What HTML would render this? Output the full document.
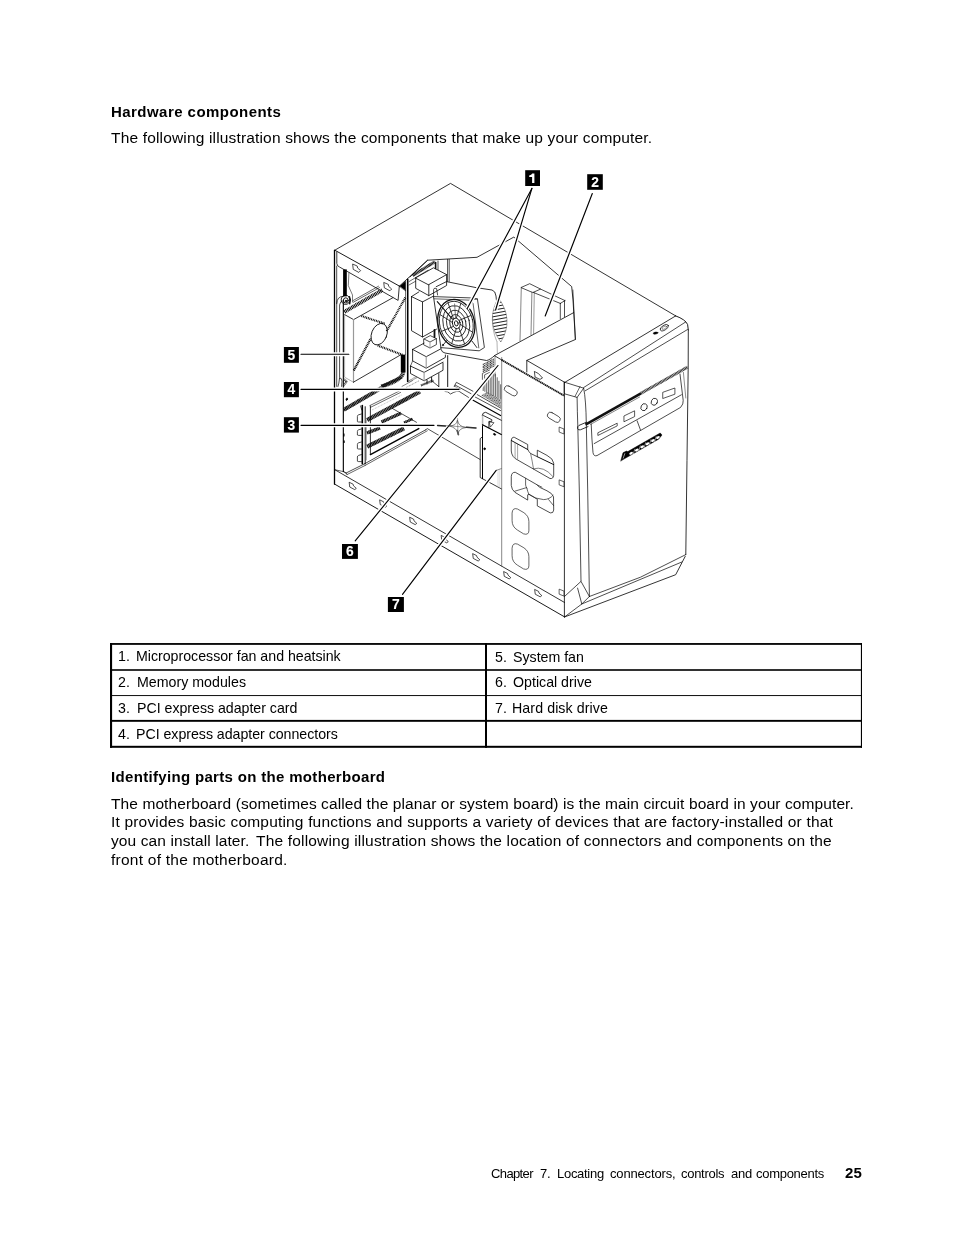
<!DOCTYPE html>
<html><head><meta charset="utf-8"><title>p25</title>
<style>
html,body{margin:0;padding:0;background:#fff;}
body{width:954px;height:1235px;position:relative;overflow:hidden;font-family:"Liberation Sans",sans-serif;color:#000;}
.t{position:absolute;white-space:nowrap;line-height:1;will-change:transform;}
.b{position:absolute;background:#000;}
svg{position:absolute;left:0;top:0;will-change:transform;}
</style></head><body>
<svg width="954" height="1235" viewBox="0 0 954 1235" stroke-linecap="round" stroke-linejoin="round">
<path d="M334.8,250.2 L450.5,183.4 L675.7,315.9" fill="none" stroke="#000" stroke-width="0.8" />
<path d="M675.7,315.9 Q685.5,319.5 687.6,324.5 L688.3,330" fill="none" stroke="#000" stroke-width="0.9" />
<path d="M334.8,250.2 L399.4,286.1" fill="none" stroke="#000" stroke-width="0.9" />
<path d="M336.8,252 L336.8,263.5 Q337,266 339.5,267 L398.1,300.4 L399.3,286.2" fill="none" stroke="#000" stroke-width="0.8" />
<path d="M353.0,264.2 L357.2,266.0 L357.6,268.0 L360.6,270.6 L358.8,272.4 L353.6,269.6 Z" fill="none" stroke="#000" stroke-width="0.7" stroke-linejoin="miter"/>
<path d="M384.1,282.6 L388.3,284.4 L388.7,286.4 L391.7,289.0 L389.9,290.8 L384.7,288.0 Z" fill="none" stroke="#000" stroke-width="0.7" stroke-linejoin="miter"/>
<path d="M399.3,286.2 L427.6,260.2 L477.0,257.3 L513.8,237.1 L571.7,286.6 L573.0,300.0 L575.4,339.5 L526.8,360.4 L564.5,382.2" fill="none" stroke="#000" stroke-width="0.8" />
<line x1="526.8" y1="360.4" x2="526.8" y2="372.0" stroke="#000" stroke-width="0.8" />
<line x1="334.5" y1="250.4" x2="334.5" y2="484.2" stroke="#000" stroke-width="1.3" />
<line x1="336.7" y1="266.0" x2="336.7" y2="386.4" stroke="#000" stroke-width="0.7" />
<line x1="343.4" y1="300.0" x2="343.4" y2="471.6" stroke="#000" stroke-width="0.8" />
<path d="M334.8,469.7 L564.4,602.4" fill="none" stroke="#000" stroke-width="0.8" />
<path d="M334.8,484.2 L564.4,616.8" fill="none" stroke="#000" stroke-width="0.9" />
<path d="M334.8,469.7 L343.4,471.6 L346.1,473.0" fill="none" stroke="#000" stroke-width="0.6" />
<path d="M349.5,482.4 L353.1,484.2 L353.5,485.8 L356.3,488.4 L354.7,489.6 L350.1,487.2 Z" fill="none" stroke="#000" stroke-width="0.7" stroke-linejoin="miter"/>
<path d="M380.0,500.0 L383.6,501.8 L384.0,503.4 L386.8,506.0 L385.2,507.2 L380.6,504.8 Z" fill="none" stroke="#000" stroke-width="0.7" stroke-linejoin="miter"/>
<path d="M410.0,517.4 L413.6,519.2 L414.0,520.8 L416.8,523.4 L415.2,524.6 L410.6,522.2 Z" fill="none" stroke="#000" stroke-width="0.7" stroke-linejoin="miter"/>
<path d="M441.5,535.6 L445.1,537.4 L445.5,539.0 L448.3,541.6 L446.7,542.8 L442.1,540.4 Z" fill="none" stroke="#000" stroke-width="0.7" stroke-linejoin="miter"/>
<path d="M473.0,553.8 L476.6,555.6 L477.0,557.2 L479.8,559.8 L478.2,561.0 L473.6,558.6 Z" fill="none" stroke="#000" stroke-width="0.7" stroke-linejoin="miter"/>
<path d="M504.0,571.7 L507.6,573.5 L508.0,575.1 L510.8,577.7 L509.2,578.9 L504.6,576.5 Z" fill="none" stroke="#000" stroke-width="0.7" stroke-linejoin="miter"/>
<path d="M535.0,589.6 L538.6,591.4 L539.0,593.0 L541.8,595.6 L540.2,596.8 L535.6,594.4 Z" fill="none" stroke="#000" stroke-width="0.7" stroke-linejoin="miter"/>
<line x1="501.7" y1="357.5" x2="501.7" y2="566.3" stroke="#555" stroke-width="0.7" />
<line x1="564.4" y1="382.2" x2="564.4" y2="616.8" stroke="#000" stroke-width="0.8" />
<line x1="501.6" y1="359.9" x2="564.5" y2="395.9" stroke="#111" stroke-width="1.8" stroke-dasharray="1.4 0.45" stroke-linecap="butt"/>
<line x1="495.0" y1="356.0" x2="501.6" y2="359.9" stroke="#000" stroke-width="0.8" />
<line x1="495.0" y1="356.0" x2="495.0" y2="376.0" stroke="#444" stroke-width="0.6" />
<line x1="494.8" y1="355.4" x2="573.7" y2="312.6" stroke="#000" stroke-width="0.8" />
<path d="M534.7,371.6 L538.5,373.6 L542.5,378.0 L540.0,379.4 L535.4,377.2 Z" fill="none" stroke="#000" stroke-width="0.7" />
<rect x="503.8" y="387.7" width="14" height="6.2" rx="3.1" transform="rotate(31 510.8 390.8)" fill="none" stroke="#222" stroke-width="0.7"/>
<rect x="546.8" y="414.2" width="14" height="6.2" rx="3.1" transform="rotate(31 553.8 417.3)" fill="none" stroke="#222" stroke-width="0.7"/>
<path d="M559.5,427.2 L564.0,429.0 L564.0,434.0 L559.5,432.2 Z" fill="none" stroke="#222" stroke-width="0.7" />
<path d="M559.5,480.0 L564.0,481.8 L564.0,486.8 L559.5,485.0 Z" fill="none" stroke="#222" stroke-width="0.7" />
<path d="M559.5,589.3 L564.0,591.1 L564.0,596.1 L559.5,594.3 Z" fill="none" stroke="#222" stroke-width="0.7" />
<path d="M 511.3,440.5 Q 511.6,436.7 514.3,437.3 L 527.7,444.5 L 527.7,449.3 Q 528.9,452.0 530.6,453.5 L 537.3,456.7 L 537.3,450.2 L 547.0,455.4 Q 553.2,458.5 553.7,463.2 L 553.7,475.3 Q 553.3,479.1 550.0,478.5 L 518.0,460.2 Q 511.7,457.3 511.3,451.4 Z" fill="none" stroke="#111" stroke-width="0.75" />
<path d="M 511.3,440.5 L 527.7,449.5 M 537.3,456.7 L 553.7,464.6" fill="none" stroke="#111" stroke-width="1.0" />
<path d="M 515.1,442.8 L 515.1,457.9 M 517.6,444.1 L 517.6,459.4" fill="none" stroke="#666" stroke-width="0.6" />
<path d="M 530.6,453.5 Q 532.3,461.1 533.5,468.8 M 533.5,468.8 Q 543.6,465.7 552.7,476.3" fill="none" stroke="#333" stroke-width="0.6" />
<path d="M 511.3,476.2 Q 511.6,472.0 515.3,472.3 L 536.9,484.7 L 539.4,487.2 L 547.0,490.8 Q 552.4,493.3 553.5,496.7 L 553.7,510.1 Q 553.3,513.5 550.3,512.9 L 537.3,505.9 L 537.3,499.2 L 528.9,494.3 L 527.7,494.8 L 527.7,500.1 L 514.9,492.3 Q 511.6,489.6 511.3,485.8 Z" fill="none" stroke="#111" stroke-width="0.75" />
<path d="M 525.6,478.3 L 525.6,485.0 Q 526.0,487.1 526.8,488.1 M 514.8,491.2 L 526.5,487.6 M 526.8,488.1 Q 527.7,492.1 528.9,494.3 M 528.9,494.3 Q 535.2,499.2 543.6,499.6 Q 549.5,499.5 553.0,495.3 M 548.6,499.6 L 553.7,505.7 M 536.9,484.7 L 541.9,487.2" fill="none" stroke="#222" stroke-width="0.7" />
<path d="M 512.1,512.7 Q 512.5,507.3 517.5,509.0 L 523.9,512.7 Q 528.9,516.1 528.9,521.6 L 528.9,530.8 Q 528.6,535.5 523.5,533.8 L 517.5,530.1 Q 512.1,526.8 512.1,521.1 Z" fill="none" stroke="#222" stroke-width="0.7" />
<path d="M 512.1,547.8 Q 512.5,542.4 517.5,544.1 L 523.9,547.8 Q 528.9,551.2 528.9,556.7 L 528.9,565.9 Q 528.6,570.6 523.5,568.9 L 517.5,565.2 Q 512.1,561.9 512.1,556.2 Z" fill="none" stroke="#222" stroke-width="0.7" />
<line x1="564.4" y1="382.6" x2="675.7" y2="315.9" stroke="#000" stroke-width="0.8" />
<line x1="583.6" y1="387.6" x2="685.6" y2="322.0" stroke="#000" stroke-width="0.7" />
<line x1="585.2" y1="390.8" x2="687.4" y2="329.6" stroke="#000" stroke-width="0.7" />
<path d="M564.5,382.2 L583.7,388.2 L577.1,397.4 L564.5,393.8 Z" fill="none" stroke="#000" stroke-width="0.7" />
<line x1="580.0" y1="386.6" x2="575.0" y2="396.4" stroke="#000" stroke-width="0.6" />
<path d="M577.1,397.4 Q577.3,412 577.8,426 L579.3,490 L581,581.4 L589.4,596.5" fill="none" stroke="#000" stroke-width="0.7" />
<path d="M583.7,388.2 Q586,400 586.3,424 L587.7,490 L589.4,596.5" fill="none" stroke="#000" stroke-width="0.7" />
<path d="M688.3,330 L688.2,367 Q687,460 685.8,554.6" fill="none" stroke="#000" stroke-width="0.8" />
<line x1="585.5" y1="424.6" x2="641.0" y2="393.3" stroke="#111" stroke-width="2.6" stroke-linecap="butt"/>
<line x1="641.0" y1="393.3" x2="687.6" y2="367.1" stroke="#222" stroke-width="3.0" stroke-dasharray="0.9 0.5" stroke-linecap="butt"/>
<line x1="590.6" y1="424.4" x2="639.6" y2="397.0" stroke="#333" stroke-width="0.6" />
<path d="M586.5,422.2 L579,425.4 Q577,426.6 577.6,428.6 Q578.2,430.4 580.4,429.8 L588,426.6" fill="none" stroke="#000" stroke-width="0.8" />
<path d="M591.2,424 Q591.8,440 593,452.6 Q593.6,456.6 597,455.6 L680.6,407.4 Q683.6,404 683.2,400.4 L680,374" fill="none" stroke="#000" stroke-width="0.7" />
<line x1="594.2" y1="443.6" x2="681.4" y2="394.8" stroke="#000" stroke-width="0.7" />
<line x1="683.4" y1="372.4" x2="685.8" y2="398.0" stroke="#444" stroke-width="0.6" />
<line x1="637.1" y1="420.8" x2="640.5" y2="430.0" stroke="#000" stroke-width="0.7" />
<path d="M598.2,432.6 L617.2,423.2 L617.2,425.9 L598.2,435.3 Z" fill="none" stroke="#111" stroke-width="0.7" />
<path d="M624.3,415.8 L634.6,410.8 L634.6,416.6 L624.3,421.6 Z" fill="none" stroke="#111" stroke-width="0.7" />
<path d="M663.1,392.2 L674.9,388.0 L674.9,394.2 L663.1,398.4 Z" fill="none" stroke="#111" stroke-width="0.7" />
<ellipse cx="644.0" cy="407.2" rx="3.0" ry="3.6" transform="rotate(25 644.0 407.2)" fill="none" stroke="#000" stroke-width="0.7"/>
<ellipse cx="654.3" cy="401.8" rx="3.0" ry="3.6" transform="rotate(25 654.3 401.8)" fill="none" stroke="#000" stroke-width="0.7"/>
<path d="M620.8,460.8 L623.0,452.7 L626.5,451.1 L627.8,451.6 L660.2,433.0 L662.0,435.0 L658.6,439.2 L624.4,458.8 Z" fill="#000" stroke="#000" stroke-width="0.5" />
<ellipse cx="631.1" cy="453.3" rx="2.0" ry="1.1" transform="rotate(-31 631.1 453.3)" fill="#fff" stroke="#fff" stroke-width="0.1"/>
<ellipse cx="636.8" cy="450.0" rx="2.0" ry="1.1" transform="rotate(-31 636.8 450.0)" fill="#fff" stroke="#fff" stroke-width="0.1"/>
<ellipse cx="642.2" cy="446.8" rx="2.0" ry="1.1" transform="rotate(-31 642.2 446.8)" fill="#fff" stroke="#fff" stroke-width="0.1"/>
<ellipse cx="647.5" cy="443.7" rx="2.0" ry="1.1" transform="rotate(-31 647.5 443.7)" fill="#fff" stroke="#fff" stroke-width="0.1"/>
<ellipse cx="652.9" cy="440.5" rx="2.0" ry="1.1" transform="rotate(-31 652.9 440.5)" fill="#fff" stroke="#fff" stroke-width="0.1"/>
<ellipse cx="657.9" cy="437.5" rx="2.0" ry="1.1" transform="rotate(-31 657.9 437.5)" fill="#fff" stroke="#fff" stroke-width="0.1"/>
<line x1="633.1" y1="454.6" x2="634.9" y2="448.8" stroke="#fff" stroke-width="0.55" stroke-linecap="butt"/>
<line x1="638.6" y1="451.3" x2="640.4" y2="445.5" stroke="#fff" stroke-width="0.55" stroke-linecap="butt"/>
<line x1="644.0" y1="448.1" x2="645.8" y2="442.3" stroke="#fff" stroke-width="0.55" stroke-linecap="butt"/>
<line x1="649.3" y1="445.0" x2="651.1" y2="439.2" stroke="#fff" stroke-width="0.55" stroke-linecap="butt"/>
<line x1="654.5" y1="441.9" x2="656.3" y2="436.1" stroke="#fff" stroke-width="0.55" stroke-linecap="butt"/>
<line x1="623.2" y1="458.2" x2="624.8" y2="453.6" stroke="#fff" stroke-width="0.6" />
<ellipse cx="664.3" cy="327.7" rx="4.6" ry="2.3" transform="rotate(-31 664.3 327.7)" fill="none" stroke="#000" stroke-width="0.7"/>
<ellipse cx="664.3" cy="327.7" rx="2.6" ry="1.2" transform="rotate(-31 664.3 327.7)" fill="none" stroke="#444" stroke-width="0.5"/>
<ellipse cx="655.6" cy="333.1" rx="2.4" ry="1.0" transform="rotate(-10 655.6 333.1)" fill="#000" stroke="#000" stroke-width="0.5"/>
<path d="M589.4,596.5 L640.5,577.2 L685.8,554.6" fill="none" stroke="#000" stroke-width="0.7" />
<path d="M581.8,604.0 L681.6,562.1" fill="none" stroke="#000" stroke-width="0.7" />
<path d="M564.5,617.0 L675.7,574.7 L685.2,556.4" fill="none" stroke="#000" stroke-width="0.8" />
<path d="M564.5,596.5 L581.0,581.4" fill="none" stroke="#000" stroke-width="0.7" />
<path d="M577.6,588.1 L581.8,604.0 L564.5,617.0" fill="none" stroke="#000" stroke-width="0.7" />
<path d="M589.4,596.5 L581.8,604.0" fill="none" stroke="#000" stroke-width="0.7" />
<rect x="343.1" y="269.4" width="3.7" height="27" fill="#000"/>
<path d="M348.9,273.0 L348.3,285.6 L352.5,295.0 L352.5,302.0" fill="none" stroke="#222" stroke-width="0.6" />
<ellipse cx="345.6" cy="299.8" rx="4.4" ry="4.6" transform="rotate(0 345.6 299.8)" fill="none" stroke="#000" stroke-width="0.9"/>
<ellipse cx="345.8" cy="300.4" rx="2.4" ry="2.6" transform="rotate(0 345.8 300.4)" fill="none" stroke="#000" stroke-width="0.9"/>
<ellipse cx="346.0" cy="301.0" rx="0.8" ry="0.9" transform="rotate(0 346.0 301.0)" fill="#000" stroke="#000" stroke-width="0.6"/>
<path d="M349.4,296.8 Q351,300 349.6,303.6" fill="none" stroke="#111" stroke-width="1.6" />
<path d="M343.4,296.2 Q336.9,296.4 336.7,303.5" fill="none" stroke="#000" stroke-width="0.7" />
<path d="M343.6,300.6 Q339.8,300.8 339.6,305 L339.6,377.5 Q339,384 338,386.5 M339.6,378 Q341.4,377 342,381 L341.6,386.4" fill="none" stroke="#000" stroke-width="0.7" />
<line x1="343.3" y1="303.0" x2="343.3" y2="471.6" stroke="#000" stroke-width="0.8" />
<line x1="344.4" y1="311.8" x2="382.2" y2="290.2" stroke="#000" stroke-width="3.8" stroke-dasharray="1.0 0.65" stroke-linecap="butt"/>
<line x1="353.0" y1="300.6" x2="378.5" y2="286.2" stroke="#000" stroke-width="0.6" />
<line x1="353.4" y1="302.2" x2="379.5" y2="287.6" stroke="#000" stroke-width="0.6" />
<path d="M344.6,314.6 L353.6,319.6 L392.9,297.7" fill="none" stroke="#000" stroke-width="0.8" />
<path d="M344.6,314.6 L344.6,377.2 L353.4,382.2" fill="none" stroke="#777" stroke-width="0.6" />
<line x1="353.5" y1="319.6" x2="353.5" y2="382.2" stroke="#999" stroke-width="1.2" />
<path d="M353.4,382.2 L400.8,354.8" fill="none" stroke="#000" stroke-width="0.8" />
<line x1="405.5" y1="290.4" x2="405.5" y2="354.6" stroke="#333" stroke-width="0.7" />
<ellipse cx="379.2" cy="334.2" rx="7.6" ry="11.2" transform="rotate(22 379.2 334.2)" fill="none" stroke="#000" stroke-width="0.8"/>
<line x1="361.4" y1="316.0" x2="384.6" y2="323.6" stroke="#000" stroke-width="2.2" stroke-dasharray="0.9 0.8" stroke-linecap="butt"/>
<line x1="405.3" y1="297.6" x2="386.4" y2="331.6" stroke="#000" stroke-width="2.2" stroke-dasharray="0.9 0.8" stroke-linecap="butt"/>
<line x1="353.8" y1="370.4" x2="370.8" y2="338.4" stroke="#000" stroke-width="2.2" stroke-dasharray="0.9 0.8" stroke-linecap="butt"/>
<line x1="402.4" y1="354.8" x2="377.4" y2="345.4" stroke="#000" stroke-width="2.2" stroke-dasharray="0.9 0.8" stroke-linecap="butt"/>
<rect x="400.8" y="354.6" width="4.7" height="17.8" fill="#000"/>
<path d="M403.2,372.2 Q402.5,380 381.3,386.5" fill="none" stroke="#111" stroke-width="4" stroke-dasharray="1 0.55" stroke-linecap="butt"/>
<line x1="343.8" y1="409.8" x2="381.6" y2="387.8" stroke="#111" stroke-width="4" stroke-dasharray="1.3 0.3" stroke-linecap="butt"/>
<path d="M343.4,379 L346.5,381.5 L343.4,386" fill="none" stroke="#222" stroke-width="2" stroke-dasharray="0.8 0.5" stroke-linecap="butt"/>
<line x1="407.7" y1="279.4" x2="407.7" y2="381.4" stroke="#000" stroke-width="1.6" />
<path d="M399.7,286.2 L405.6,281.2 L405.6,290.6 Z" fill="#000" stroke="#000" stroke-width="0.5" />
<line x1="412.6" y1="275.6" x2="434.8" y2="261.8" stroke="#111" stroke-width="3.0" stroke-dasharray="1 0.35" stroke-linecap="butt"/>
<line x1="409.0" y1="281.6" x2="428.0" y2="270.2" stroke="#000" stroke-width="0.6" />
<line x1="409.0" y1="285.0" x2="415.6" y2="281.2" stroke="#000" stroke-width="0.6" />
<line x1="427.6" y1="260.2" x2="410.0" y2="277.0" stroke="#000" stroke-width="0.8" />
<path d="M415.7,277.8 L433.5,267.8 L446.6,274.6 L428.8,284.6 Z" fill="none" stroke="#000" stroke-width="0.8" />
<path d="M415.7,277.8 L415.7,288.3 L428.8,295.6 L428.8,284.6" fill="none" stroke="#000" stroke-width="0.8" />
<path d="M428.8,295.6 L446.6,285.5 L446.6,274.6" fill="none" stroke="#000" stroke-width="0.8" />
<line x1="435.6" y1="262.5" x2="435.6" y2="268.5" stroke="#111" stroke-width="1.6" />
<line x1="438.0" y1="261.0" x2="438.0" y2="269.6" stroke="#000" stroke-width="0.7" />
<path d="M411.5,296.6 L418.9,291.9" fill="none" stroke="#000" stroke-width="0.8" />
<path d="M411.5,296.6 L422.5,301.9 L433.5,296.1" fill="none" stroke="#000" stroke-width="0.8" />
<path d="M411.5,296.6 L411.5,330.7 L422.5,337.0 L422.5,301.9" fill="none" stroke="#000" stroke-width="0.8" />
<path d="M422.5,337.0 L436.5,329.2" fill="none" stroke="#000" stroke-width="0.8" />
<line x1="434.5" y1="330.0" x2="434.5" y2="337.0" stroke="#111" stroke-width="1.8" />
<path d="M433.6,296 L433.6,289.5 Q433.8,288.3 435,288.2 L436.6,288.6 L437.6,295" fill="none" stroke="#000" stroke-width="0.7" />
<line x1="447.7" y1="259.4" x2="447.7" y2="281.4" stroke="#000" stroke-width="0.8" />
<line x1="449.3" y1="259.4" x2="449.3" y2="281.4" stroke="#000" stroke-width="0.6" />
<path d="M436.2,286.7 L446.5,281.6 L476,287.6 L492,290 Q495.5,291 496,296 L496.4,300" fill="none" stroke="#000" stroke-width="0.8" />
<path d="M433.5,296.6 L441.2,349.6 Q441.9,352.4 445,353 L486.5,360.5 Q489.5,360.2 494.6,355.6" fill="none" stroke="#000" stroke-width="0.8" />
<path d="M433.6,296.6 L470.3,297.9 L477.4,298.9 L484.4,347.5 L479.2,350.8 L440.8,347.6" fill="none" stroke="#111" stroke-width="0.8" />
<path d="M434.2,298.8 L471,300.2 L473.1,303.6 L478.8,347.9 M471,300.2 L477.4,298.9" fill="none" stroke="#222" stroke-width="0.7" />
<ellipse cx="456.3" cy="323.4" rx="18.2" ry="24.3" transform="rotate(-14 456.3 323.4)" fill="none" stroke="#111" stroke-width="1.3"/>
<ellipse cx="456.3" cy="323.4" rx="16.6" ry="22.4" transform="rotate(-14 456.3 323.4)" fill="none" stroke="#111" stroke-width="0.8"/>
<ellipse cx="456.3" cy="323.4" rx="13.2" ry="18.0" transform="rotate(-14 456.3 323.4)" fill="none" stroke="#111" stroke-width="0.8"/>
<ellipse cx="456.3" cy="323.4" rx="9.6" ry="13.4" transform="rotate(-14 456.3 323.4)" fill="none" stroke="#111" stroke-width="0.8"/>
<ellipse cx="456.3" cy="323.4" rx="6.4" ry="9.0" transform="rotate(-14 456.3 323.4)" fill="none" stroke="#111" stroke-width="0.8"/>
<ellipse cx="456.3" cy="323.4" rx="3.8" ry="5.4" transform="rotate(-14 456.3 323.4)" fill="none" stroke="#111" stroke-width="0.9"/>
<ellipse cx="456.3" cy="323.4" rx="1.8" ry="2.6" transform="rotate(-14 456.3 323.4)" fill="none" stroke="#111" stroke-width="0.9"/>
<line x1="460.2" y1="324.3" x2="472.7" y2="332.3" stroke="#222" stroke-width="0.9" />
<line x1="459.0" y1="327.8" x2="464.6" y2="344.0" stroke="#222" stroke-width="0.9" />
<line x1="456.3" y1="328.6" x2="451.7" y2="343.6" stroke="#222" stroke-width="0.9" />
<line x1="453.5" y1="326.4" x2="441.5" y2="331.4" stroke="#222" stroke-width="0.9" />
<line x1="452.4" y1="322.5" x2="439.9" y2="314.5" stroke="#222" stroke-width="0.9" />
<line x1="453.6" y1="319.0" x2="448.0" y2="302.8" stroke="#222" stroke-width="0.9" />
<line x1="456.3" y1="318.2" x2="460.9" y2="303.2" stroke="#222" stroke-width="0.9" />
<line x1="459.1" y1="320.4" x2="471.1" y2="315.4" stroke="#222" stroke-width="0.9" />
<line x1="437.3" y1="301.7" x2="452.4" y2="319.2" stroke="#111" stroke-width="1.1" />
<line x1="443.2" y1="344.8" x2="447.0" y2="340.4" stroke="#000" stroke-width="0.8" />
<line x1="472.2" y1="341.3" x2="476.9" y2="347.6" stroke="#000" stroke-width="0.8" />
<ellipse cx="442.9" cy="345.1" rx="0.8" ry="0.8" transform="rotate(0 442.9 345.1)" fill="#000" stroke="#000" stroke-width="0.4"/>
<line x1="454.6" y1="304.0" x2="455.6" y2="318.0" stroke="#444" stroke-width="0.7" />
<clipPath id="hs"><path d="M498.4,297.6 Q514.5,320 500.8,342 Q485,321 498.4,297.6 Z"/></clipPath>
<g clip-path="url(#hs)"><line x1="488" y1="304.5" x2="512" y2="300.1" stroke="#222" stroke-width="1.0"/><line x1="488" y1="307.8" x2="512" y2="303.4" stroke="#222" stroke-width="1.0"/><line x1="488" y1="311.1" x2="512" y2="306.7" stroke="#222" stroke-width="1.0"/><line x1="488" y1="314.4" x2="512" y2="310.0" stroke="#222" stroke-width="1.0"/><line x1="488" y1="317.7" x2="512" y2="313.3" stroke="#222" stroke-width="1.0"/><line x1="488" y1="321.0" x2="512" y2="316.6" stroke="#222" stroke-width="1.0"/><line x1="488" y1="324.3" x2="512" y2="319.9" stroke="#222" stroke-width="1.0"/><line x1="488" y1="327.6" x2="512" y2="323.2" stroke="#222" stroke-width="1.0"/><line x1="488" y1="330.9" x2="512" y2="326.5" stroke="#222" stroke-width="1.0"/><line x1="488" y1="334.2" x2="512" y2="329.8" stroke="#222" stroke-width="1.0"/><line x1="488" y1="337.5" x2="512" y2="333.1" stroke="#222" stroke-width="1.0"/><line x1="488" y1="340.8" x2="512" y2="336.4" stroke="#222" stroke-width="1.0"/><line x1="488" y1="344.1" x2="512" y2="339.7" stroke="#222" stroke-width="1.0"/></g>
<path d="M498.4,297.6 Q514.5,320 500.8,342 Q485,321 498.4,297.6 Z" fill="none" stroke="#555" stroke-width="0.5" />
<path d="M497,341.5 L497.4,354 M492.6,316 Q491.8,330 496.6,341" fill="none" stroke="#666" stroke-width="0.5" />
<path d="M424.0,339.0 L430.2,335.6 L436.4,338.6 L436.4,344.6 L430.0,348.0 L424.0,345.0 Z" fill="none" stroke="#000" stroke-width="0.7" />
<path d="M424.0,339.0 L430.0,342.0 L436.4,338.6" fill="none" stroke="#000" stroke-width="0.7" />
<line x1="430.0" y1="342.0" x2="430.0" y2="348.0" stroke="#999" stroke-width="0.9" />
<path d="M412.6,349.4 L424.0,343.2" fill="none" stroke="#000" stroke-width="0.8" />
<path d="M412.6,349.4 L426.2,356.7 L440.5,349.0" fill="none" stroke="#000" stroke-width="0.8" />
<path d="M412.6,349.4 L412.6,360.9 L426.2,368.2 L445.4,357.4 L445.4,355.0" fill="none" stroke="#000" stroke-width="0.8" />
<line x1="426.2" y1="356.7" x2="426.2" y2="368.2" stroke="#999" stroke-width="1.1" />
<path d="M410.5,366.1 L410.5,373.5 L424.1,380.8 L443.0,370.3 L443.0,363.0" fill="none" stroke="#000" stroke-width="0.8" />
<path d="M410.5,366.1 L424.1,372.4 L443.0,362.2" fill="none" stroke="#000" stroke-width="0.8" />
<line x1="424.1" y1="372.4" x2="424.1" y2="380.8" stroke="#999" stroke-width="1.1" />
<line x1="412.6" y1="361.0" x2="410.5" y2="366.1" stroke="#000" stroke-width="0.6" />
<line x1="447.7" y1="355.6" x2="447.7" y2="386.6" stroke="#000" stroke-width="0.9" />
<line x1="438.8" y1="373.5" x2="438.8" y2="386.6" stroke="#000" stroke-width="0.8" />
<path d="M432.0,381.0 L438.8,386.6" fill="none" stroke="#000" stroke-width="0.7" />
<line x1="427.0" y1="380.0" x2="427.0" y2="384.0" stroke="#000" stroke-width="0.9" />
<line x1="431.6" y1="377.4" x2="431.6" y2="382.0" stroke="#000" stroke-width="0.9" />
<line x1="421.0" y1="385.4" x2="433.5" y2="380.4" stroke="#111" stroke-width="2.2" stroke-dasharray="0.7 0.45" stroke-linecap="butt"/>
<line x1="408.5" y1="381.6" x2="417.0" y2="377.0" stroke="#555" stroke-width="2" stroke-dasharray="0.6 0.6" stroke-linecap="butt"/>
<path d="M402.0,386.4 L412.5,380.6" fill="none" stroke="#333" stroke-width="0.6" />
<path d="M406.0,387.6 L419.0,380.8" fill="none" stroke="#333" stroke-width="0.6" stroke-dasharray="0.9 0.8" stroke-linecap="butt"/>
<path d="M454.3,386.2 L456.4,382.3 L472.9,391.2" fill="none" stroke="#000" stroke-width="0.7" />
<path d="M455.4,385.2 L471.0,393.7" fill="none" stroke="#000" stroke-width="0.7" />
<path d="M454.3,386.2 L460.0,389.2" fill="none" stroke="#000" stroke-width="0.6" />
<path d="M445.0,391.5 L447.8,391.9 L450.5,394.0 L453.8,392.3 L456.8,391.3 L459.3,391.5 L468.5,397.4" fill="none" stroke="#000" stroke-width="0.7" />
<line x1="476.9" y1="394.4" x2="500.6" y2="408.0" stroke="#000" stroke-width="0.7" />
<line x1="475.2" y1="397.0" x2="500.6" y2="410.6" stroke="#000" stroke-width="0.7" />
<line x1="473.1" y1="400.3" x2="500.6" y2="415.6" stroke="#000" stroke-width="1.1" />
<line x1="482.8" y1="364.6" x2="494.3" y2="358.7" stroke="#222" stroke-width="1.1" stroke-dasharray="1.1 0.5" stroke-linecap="butt"/>
<line x1="482.8" y1="366.4" x2="494.3" y2="360.5" stroke="#222" stroke-width="1.1" stroke-dasharray="1.1 0.5" stroke-linecap="butt"/>
<line x1="482.8" y1="368.1" x2="494.3" y2="362.2" stroke="#222" stroke-width="1.1" stroke-dasharray="1.1 0.5" stroke-linecap="butt"/>
<line x1="482.8" y1="369.9" x2="494.3" y2="364.0" stroke="#222" stroke-width="1.1" stroke-dasharray="1.1 0.5" stroke-linecap="butt"/>
<line x1="482.8" y1="371.6" x2="494.3" y2="365.7" stroke="#222" stroke-width="1.1" stroke-dasharray="1.1 0.5" stroke-linecap="butt"/>
<path d="M482.4,379.4 L482.4,373.4 L489.6,370.0" fill="none" stroke="#222" stroke-width="0.7" />
<path d="M484.6,378.2 L484.6,374.8 L489.6,372.4" fill="none" stroke="#222" stroke-width="0.7" />
<line x1="483.2" y1="385.5" x2="483.2" y2="390.6" stroke="#333" stroke-width="0.75" />
<line x1="484.9" y1="383.5" x2="484.9" y2="391.4" stroke="#333" stroke-width="0.75" />
<line x1="486.7" y1="381.5" x2="486.7" y2="392.2" stroke="#333" stroke-width="0.75" />
<line x1="488.4" y1="379.5" x2="488.4" y2="393.1" stroke="#333" stroke-width="0.75" />
<line x1="490.2" y1="377.4" x2="490.2" y2="393.9" stroke="#333" stroke-width="0.75" />
<line x1="491.9" y1="375.4" x2="491.9" y2="394.7" stroke="#333" stroke-width="0.75" />
<line x1="493.7" y1="373.4" x2="493.7" y2="395.5" stroke="#333" stroke-width="0.75" />
<line x1="495.4" y1="374.2" x2="495.4" y2="396.4" stroke="#333" stroke-width="0.75" />
<line x1="497.2" y1="377.7" x2="497.2" y2="397.2" stroke="#333" stroke-width="0.75" />
<line x1="498.9" y1="381.2" x2="498.9" y2="398.0" stroke="#333" stroke-width="0.75" />
<line x1="500.7" y1="384.7" x2="500.7" y2="398.8" stroke="#333" stroke-width="0.75" />
<clipPath id="xh"><path d="M481.1,395.3 L487,392 L500.9,399.5 L500.9,407.2 Z"/></clipPath>
<g clip-path="url(#xh)"><line x1="480" y1="387.4" x2="503" y2="399.8" stroke="#111" stroke-width="0.85" stroke-dasharray="1 0.45" stroke-dashoffset="0.0" stroke-linecap="butt"/><line x1="480" y1="388.8" x2="503" y2="401.2" stroke="#111" stroke-width="0.85" stroke-dasharray="1 0.45" stroke-dashoffset="0.7" stroke-linecap="butt"/><line x1="480" y1="390.1" x2="503" y2="402.5" stroke="#111" stroke-width="0.85" stroke-dasharray="1 0.45" stroke-dashoffset="0.0" stroke-linecap="butt"/><line x1="480" y1="391.5" x2="503" y2="403.9" stroke="#111" stroke-width="0.85" stroke-dasharray="1 0.45" stroke-dashoffset="0.7" stroke-linecap="butt"/><line x1="480" y1="392.8" x2="503" y2="405.2" stroke="#111" stroke-width="0.85" stroke-dasharray="1 0.45" stroke-dashoffset="0.0" stroke-linecap="butt"/><line x1="480" y1="394.2" x2="503" y2="406.6" stroke="#111" stroke-width="0.85" stroke-dasharray="1 0.45" stroke-dashoffset="0.7" stroke-linecap="butt"/><line x1="480" y1="395.5" x2="503" y2="407.9" stroke="#111" stroke-width="0.85" stroke-dasharray="1 0.45" stroke-dashoffset="0.0" stroke-linecap="butt"/><line x1="480" y1="396.9" x2="503" y2="409.3" stroke="#111" stroke-width="0.85" stroke-dasharray="1 0.45" stroke-dashoffset="0.7" stroke-linecap="butt"/><line x1="480" y1="398.2" x2="503" y2="410.6" stroke="#111" stroke-width="0.85" stroke-dasharray="1 0.45" stroke-dashoffset="0.0" stroke-linecap="butt"/></g>
<line x1="382.0" y1="386.4" x2="401.5" y2="377.2" stroke="#111" stroke-width="3.2" stroke-dasharray="1.3 0.3" stroke-linecap="butt"/>
<line x1="369.8" y1="405.6" x2="399.2" y2="391.1" stroke="#000" stroke-width="0.6" />
<line x1="370.4" y1="407.4" x2="400.6" y2="392.4" stroke="#000" stroke-width="0.6" />
<line x1="372.0" y1="410.0" x2="402.0" y2="394.8" stroke="#777" stroke-width="0.5" stroke-dasharray="0.8 0.9" stroke-linecap="butt"/>
<line x1="367.2" y1="420.0" x2="420.0" y2="391.6" stroke="#111" stroke-width="4.2" stroke-dasharray="1.3 0.3" stroke-linecap="butt"/>
<line x1="392.3" y1="408.4" x2="416.5" y2="422.3" stroke="#000" stroke-width="0.7" />
<line x1="381.5" y1="422.0" x2="401.0" y2="413.2" stroke="#111" stroke-width="3.4" stroke-dasharray="1.3 0.3" stroke-linecap="butt"/>
<line x1="404.0" y1="422.6" x2="412.5" y2="419.0" stroke="#111" stroke-width="2.6" stroke-dasharray="1.3 0.3" stroke-linecap="butt"/>
<line x1="367.0" y1="433.0" x2="380.0" y2="428.0" stroke="#111" stroke-width="3.4" stroke-dasharray="1.3 0.3" stroke-linecap="butt"/>
<line x1="367.2" y1="446.6" x2="404.0" y2="428.4" stroke="#111" stroke-width="4.2" stroke-dasharray="1.3 0.3" stroke-linecap="butt"/>
<line x1="370.4" y1="454.6" x2="418.8" y2="428.6" stroke="#000" stroke-width="1.4" />
<line x1="364.6" y1="463.8" x2="425.7" y2="429.8" stroke="#000" stroke-width="0.7" />
<line x1="365.2" y1="465.4" x2="427.3" y2="430.8" stroke="#000" stroke-width="0.6" />
<path d="M346.1,473.0 L364.6,463.8" fill="none" stroke="#000" stroke-width="0.7" />
<path d="M347.0,474.6 L365.2,465.4" fill="none" stroke="#000" stroke-width="0.6" />
<path d="M343.4,471.6 L346.1,473.0 L347.0,474.6" fill="none" stroke="#000" stroke-width="0.6" />
<line x1="362.3" y1="405.6" x2="362.3" y2="463.8" stroke="#000" stroke-width="1.6" />
<line x1="365.2" y1="406.7" x2="365.2" y2="463.8" stroke="#000" stroke-width="0.9" />
<line x1="360.6" y1="406.0" x2="361.8" y2="410.0" stroke="#000" stroke-width="0.7" />
<line x1="370.4" y1="406.0" x2="370.4" y2="454.6" stroke="#000" stroke-width="0.8" />
<line x1="366.4" y1="420.0" x2="366.4" y2="460.0" stroke="#555" stroke-width="0.5" />
<path d="M361.4,414 L358.6,414.8 Q357.4,415.2 357.4,416.4 L357.4,421.6 Q357.6,422 358.8,422 L361.4,422" fill="none" stroke="#000" stroke-width="0.7" />
<path d="M361.4,429 L358.6,429.8 Q357.4,430.2 357.4,431.4 L357.4,435.0 Q357.6,435.4 358.8,435.4 L361.4,435.4" fill="none" stroke="#000" stroke-width="0.7" />
<path d="M361.4,442 L358.6,442.8 Q357.4,443.2 357.4,444.4 L357.4,448.6 Q357.6,449 358.8,449 L361.4,449" fill="none" stroke="#000" stroke-width="0.7" />
<path d="M361.4,454.6 L358.6,455.40000000000003 Q357.4,455.8 357.4,457.0 L357.4,461.20000000000005 Q357.6,461.6 358.8,461.6 L361.4,461.6" fill="none" stroke="#000" stroke-width="0.7" />
<ellipse cx="346.8" cy="399.2" rx="0.7" ry="1.3" transform="rotate(20 346.8 399.2)" fill="#000" stroke="#000" stroke-width="0.6"/>
<line x1="343.8" y1="434.0" x2="343.8" y2="436.0" stroke="#000" stroke-width="1.4" />
<line x1="344.0" y1="441.0" x2="344.0" y2="442.4" stroke="#000" stroke-width="1.4" />
<path d="M425.7,429.8 L427.3,428.6 L480.3,459.6" fill="none" stroke="#000" stroke-width="0.7" />
<path d="M521.3,287.4 L529.7,283.7 L540.6,289.1 L533.1,292.4 Z" fill="none" stroke="#000" stroke-width="0.7" />
<line x1="521.3" y1="287.4" x2="520.0" y2="340.6" stroke="#333" stroke-width="0.6" />
<line x1="531.9" y1="292.0" x2="531.0" y2="335.0" stroke="#333" stroke-width="0.6" />
<line x1="534.3" y1="292.6" x2="533.6" y2="334.0" stroke="#555" stroke-width="0.6" />
<path d="M533.5,292.5 L560.3,303.4" fill="none" stroke="#000" stroke-width="0.7" />
<path d="M540.6,289.1 L565.0,300.6" fill="none" stroke="#000" stroke-width="0.7" />
<path d="M560.3,303.4 L565.0,300.6" fill="none" stroke="#000" stroke-width="0.7" />
<line x1="560.3" y1="303.4" x2="560.3" y2="318.6" stroke="#000" stroke-width="0.7" />
<line x1="564.5" y1="301.0" x2="564.5" y2="316.6" stroke="#000" stroke-width="0.7" />
<line x1="572.9" y1="290.0" x2="575.4" y2="339.5" stroke="#000" stroke-width="0.6" />
<line x1="482.5" y1="424.7" x2="482.5" y2="478.6" stroke="#000" stroke-width="1.0" />
<line x1="482.6" y1="415.0" x2="482.6" y2="424.7" stroke="#bbb" stroke-width="1.5" />
<path d="M482.3,415.2 Q482.6,412.2 485.7,412.3 L501.3,420.3" fill="none" stroke="#000" stroke-width="0.8" />
<path d="M483.6,415.6 L491.8,419.7 L491.8,421.4 L488.9,421.4 L488.9,427.8" fill="none" stroke="#000" stroke-width="0.8" />
<path d="M489.6,422.0 L494.0,422.7 L490.6,426.8 Z" fill="none" stroke="#000" stroke-width="0.6" />
<line x1="482.5" y1="424.7" x2="501.3" y2="434.5" stroke="#000" stroke-width="1.2" />
<path d="M482.2,437.0 L480.2,438.6 L480.2,477.5 L501.3,488.8" fill="none" stroke="#000" stroke-width="0.8" />
<ellipse cx="494.5" cy="434.3" rx="1.2" ry="0.8" transform="rotate(30 494.5 434.3)" fill="#000" stroke="#000" stroke-width="0.5"/>
<ellipse cx="484.6" cy="448.8" rx="0.9" ry="1.1" transform="rotate(0 484.6 448.8)" fill="#000" stroke="#000" stroke-width="0.5"/>
<line x1="498.0" y1="470.6" x2="498.0" y2="486.2" stroke="#ccc" stroke-width="0.7" />
<line x1="499.8" y1="469.6" x2="499.8" y2="487.0" stroke="#ccc" stroke-width="0.7" />
<path d="M496.2,470.4 L501.3,468.6" fill="none" stroke="#444" stroke-width="0.6" />
<line x1="531.9" y1="188.4" x2="467.1" y2="308.7" stroke="#fff" stroke-width="4.0" stroke-linecap="butt"/>
<line x1="531.9" y1="188.4" x2="495.6" y2="310.0" stroke="#fff" stroke-width="4.0" stroke-linecap="butt"/>
<line x1="592.3" y1="193.5" x2="545.2" y2="316.0" stroke="#fff" stroke-width="4.0" stroke-linecap="butt"/>
<line x1="301.0" y1="425.3" x2="434.0" y2="425.3" stroke="#fff" stroke-width="4.0" stroke-linecap="butt"/>
<line x1="301.0" y1="389.4" x2="458.8" y2="389.4" stroke="#fff" stroke-width="4.0" stroke-linecap="butt"/>
<line x1="301.0" y1="354.2" x2="348.8" y2="354.2" stroke="#fff" stroke-width="4.0" stroke-linecap="butt"/>
<line x1="355.2" y1="540.8" x2="498.0" y2="365.5" stroke="#fff" stroke-width="4.0" stroke-linecap="butt"/>
<line x1="402.5" y1="594.3" x2="496.2" y2="470.4" stroke="#fff" stroke-width="4.0" stroke-linecap="butt"/>
<line x1="531.9" y1="188.4" x2="467.1" y2="308.7" stroke="#000" stroke-width="1.15" />
<line x1="531.9" y1="188.4" x2="495.6" y2="310.0" stroke="#000" stroke-width="1.15" />
<line x1="592.3" y1="193.5" x2="545.2" y2="316.0" stroke="#000" stroke-width="1.15" />
<line x1="301.0" y1="425.3" x2="434.0" y2="425.3" stroke="#000" stroke-width="1.15" />
<line x1="301.0" y1="389.4" x2="458.8" y2="389.4" stroke="#000" stroke-width="1.15" />
<line x1="301.0" y1="354.2" x2="348.8" y2="354.2" stroke="#000" stroke-width="1.15" />
<line x1="355.2" y1="540.8" x2="498.0" y2="365.5" stroke="#000" stroke-width="1.15" />
<line x1="402.5" y1="594.3" x2="496.2" y2="470.4" stroke="#000" stroke-width="1.15" />
<line x1="437.6" y1="425.6" x2="445.4" y2="425.9" stroke="#222" stroke-width="1.5" />
<path d="M449,425.8 Q456.4,426.4 457.4,420.2 Q458.6,426.6 466,427.6 Q459,428.2 458.2,433.6 Q457,427.8 449,425.8 Z" fill="none" stroke="#333" stroke-width="0.6" />
<line x1="446.0" y1="425.6" x2="476.0" y2="428.0" stroke="#444" stroke-width="0.5" />
<line x1="457.6" y1="418.6" x2="457.9" y2="434.4" stroke="#444" stroke-width="0.5" />
<line x1="466.4" y1="427.2" x2="476.0" y2="428.0" stroke="#333" stroke-width="1.4" />
<line x1="457.2" y1="430.6" x2="458.4" y2="434.6" stroke="#555" stroke-width="1.7" />
<rect x="525.2" y="170.2" width="14.8" height="15.8" fill="#000"/>
<path d="M529.2,175.4 Q531.6,175.2 532.2,173.5 L534.4,173.5 L534.4,183 L532.1,183 L532.1,177 L529.2,177 Z" fill="#fff"/>
<rect x="587.2" y="174.2" width="15.6" height="15.6" fill="#000"/>
<text x="595.0" y="186.6" text-anchor="middle" font-family="Liberation Sans, sans-serif" font-weight="bold" font-size="13.8" fill="#fff" stroke="#fff" stroke-width="0.1">2</text>
<rect x="283.9" y="417.2" width="15" height="15.4" fill="#000"/>
<text x="291.4" y="429.5" text-anchor="middle" font-family="Liberation Sans, sans-serif" font-weight="bold" font-size="13.8" fill="#fff" stroke="#fff" stroke-width="0.1">3</text>
<rect x="283.9" y="382" width="15" height="15.2" fill="#000"/>
<text x="291.4" y="394.2" text-anchor="middle" font-family="Liberation Sans, sans-serif" font-weight="bold" font-size="13.8" fill="#fff" stroke="#fff" stroke-width="0.1">4</text>
<rect x="283.9" y="347" width="15" height="15.8" fill="#000"/>
<text x="291.4" y="359.5" text-anchor="middle" font-family="Liberation Sans, sans-serif" font-weight="bold" font-size="13.8" fill="#fff" stroke="#fff" stroke-width="0.1">5</text>
<rect x="342" y="544" width="15.9" height="14.9" fill="#000"/>
<text x="349.9" y="556.1" text-anchor="middle" font-family="Liberation Sans, sans-serif" font-weight="bold" font-size="13.8" fill="#fff" stroke="#fff" stroke-width="0.1">6</text>
<rect x="387.9" y="597" width="16" height="15" fill="#000"/>
<text x="395.9" y="609.1" text-anchor="middle" font-family="Liberation Sans, sans-serif" font-weight="bold" font-size="13.8" fill="#fff" stroke="#fff" stroke-width="0.1">7</text>
</svg>

<svg width="954" height="1235" viewBox="0 0 954 1235"><rect x="110" y="643.05" width="752" height="1.8" fill="#000"/><rect x="110" y="745.8" width="752" height="2.0" fill="#000"/><rect x="110" y="643.05" width="2.1" height="104.75" fill="#000"/><rect x="860.9" y="643.05" width="1.1" height="104.75" fill="#000"/><rect x="485" y="643.05" width="2" height="104.75" fill="#000"/><rect x="110" y="669.2" width="752" height="1.6" fill="#000"/><rect x="110" y="695.1" width="752" height="0.95" fill="#000"/><rect x="110" y="719.9" width="752" height="1.9" fill="#000"/></svg>
<div class="t" style="left:110.50px;top:104px;font-size:15px;letter-spacing:0.452px;font-weight:bold;">Hardware components</div>
<div class="t" style="left:111.00px;top:130px;font-size:15.5px;letter-spacing:0.164px;">The following illustration shows the components that make up your computer.</div>
<div class="t" style="left:118.40px;top:649px;font-size:14.2px;letter-spacing:0.000px;">1.</div>
<div class="t" style="left:136.00px;top:649px;font-size:14.2px;letter-spacing:-0.011px;">Microprocessor fan and heatsink</div>
<div class="t" style="left:118.20px;top:675px;font-size:14.2px;letter-spacing:0.000px;">2.</div>
<div class="t" style="left:136.80px;top:675px;font-size:14.2px;letter-spacing:0.015px;">Memory modules</div>
<div class="t" style="left:118.20px;top:701px;font-size:14.2px;letter-spacing:0.000px;">3.</div>
<div class="t" style="left:136.50px;top:701px;font-size:14.2px;letter-spacing:-0.021px;">PCI express adapter card</div>
<div class="t" style="left:118.20px;top:727px;font-size:14.2px;letter-spacing:0.000px;">4.</div>
<div class="t" style="left:136.00px;top:727px;font-size:14.2px;letter-spacing:-0.030px;">PCI express adapter connectors</div>
<div class="t" style="left:494.50px;top:650px;font-size:14.2px;letter-spacing:0.000px;">5.</div>
<div class="t" style="left:513.00px;top:650px;font-size:14.2px;letter-spacing:-0.008px;">System fan</div>
<div class="t" style="left:494.50px;top:675px;font-size:14.2px;letter-spacing:0.000px;">6.</div>
<div class="t" style="left:513.00px;top:675px;font-size:14.2px;letter-spacing:0.003px;">Optical drive</div>
<div class="t" style="left:494.50px;top:701px;font-size:14.2px;letter-spacing:0.000px;">7.</div>
<div class="t" style="left:512.00px;top:701px;font-size:14.2px;letter-spacing:0.091px;">Hard disk drive</div>
<div class="t" style="left:110.50px;top:769px;font-size:15px;letter-spacing:0.327px;font-weight:bold;">Identifying parts on the motherboard</div>
<div class="t" style="left:111.00px;top:796px;font-size:15.5px;letter-spacing:0.093px;">The motherboard (sometimes called the planar or system board) is the main circuit board in your computer.</div>
<div class="t" style="left:110.50px;top:814px;font-size:15.5px;letter-spacing:0.179px;">It provides basic computing functions and supports a variety of devices that are factory-installed or that</div>
<div class="t" style="left:111.00px;top:833px;font-size:15.5px;letter-spacing:0.104px;">you can install later.</div>
<div class="t" style="left:256.00px;top:833px;font-size:15.5px;letter-spacing:0.184px;">The following illustration shows the location of connectors and components on the</div>
<div class="t" style="left:111.00px;top:852px;font-size:15.5px;letter-spacing:0.242px;">front of the motherboard.</div>
<div class="t" style="left:490.90px;top:1167px;font-size:13px;letter-spacing:-0.620px;">Chapter</div>
<div class="t" style="left:540.20px;top:1167px;font-size:13px;letter-spacing:-0.270px;">7.</div>
<div class="t" style="left:557.20px;top:1167px;font-size:13px;letter-spacing:-0.289px;">Locating</div>
<div class="t" style="left:610.00px;top:1167px;font-size:13px;letter-spacing:-0.159px;">connectors,</div>
<div class="t" style="left:680.90px;top:1167px;font-size:13px;letter-spacing:-0.288px;">controls</div>
<div class="t" style="left:730.70px;top:1167px;font-size:13px;letter-spacing:-0.270px;">and</div>
<div class="t" style="left:756.40px;top:1167px;font-size:13px;letter-spacing:-0.291px;">components</div>
<div class="t" style="left:844.60px;top:1164.6px;font-size:15px;letter-spacing:0.058px;font-weight:bold;">25</div>
</body></html>
